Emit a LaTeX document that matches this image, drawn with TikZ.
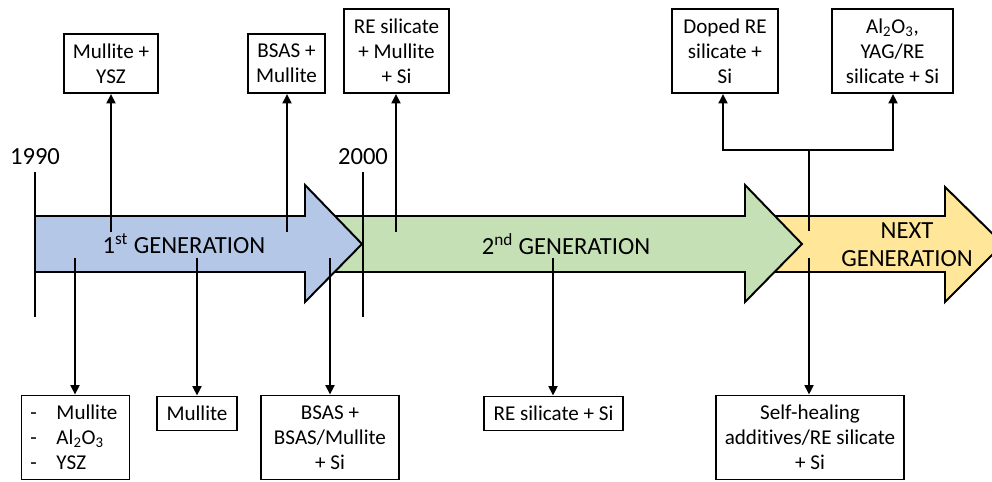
\documentclass[tikz,border=0pt]{standalone}
\usepackage{fontspec}
\setmainfont{Carlito}[Ligatures={NoCommon}]
\usetikzlibrary{positioning}
\usetikzlibrary{arrows.meta}
\definecolor{genblue}{RGB}{180,199,231}
\definecolor{gengreen}{RGB}{197,224,180}
\definecolor{genyellow}{RGB}{255,230,153}

\begin{document}
\begin{tikzpicture}[x=0.025cm,y=-0.025cm,
		box/.style={draw,line width=1.2pt,inner sep=0pt,align=center,font=\fontsize{15}{17.8}\selectfont},
		gen/.style={align=center,font=\fontsize{17.5}{20}\selectfont},
		link/.style={line width=1.6pt,-{Triangle[length=2.4mm,width=2.2mm]}},
		tick/.style={line width=1.6pt},
		genarrow/.style={draw,line width=1.4pt,line join=miter}]
	\useasboundingbox (0,0) rectangle (992,481);

	% the three generation arrows
	\filldraw[genarrow,fill=genyellow] (740,216) -- (945,216) -- (945,187) -- (1003,244) -- (945,302) -- (945,272) -- (740,272) -- cycle;
	\filldraw[genarrow,fill=gengreen] (330,216) -- (745,216) -- (745,185) -- (802,244) -- (745,302) -- (745,272) -- (330,272) -- cycle;
	\filldraw[genarrow,fill=genblue] (35,216) -- (305,216) -- (305,185) -- (362,244) -- (305,302) -- (305,272) -- (35,272) -- cycle;

	\node (g1) at (184,244) [gen] {1\textsuperscript{st} GENERATION};
	\node (g2) at (566,244) [gen] {2\textsuperscript{nd} GENERATION};
	\node (g3) at (907,245) [gen] {NEXT\\GENERATION};

	% year ticks
	\coordinate (y90t) at (35,172);
	\coordinate (y90b) at (35,317);
	\coordinate (y00t) at (363,172);
	\coordinate (y00b) at (363,317);
	\draw[tick] (y90t) -- (y90b);
	\draw[tick] (y00t) -- (y00b);
	\node (y90) [gen,above=0.5mm of y90t] {1990};
	\node (y00) [gen,above=0.5mm of y00t] {2000};

	% boxes above
	\node (myz) at (111,63.5) [box,minimum width=23.5mm,minimum height=14.75mm] {Mullite +\\YSZ};
	\node (bm) at (286.5,63.5) [box,minimum width=19.25mm,minimum height=14.75mm] {BSAS +\\Mullite};
	\node (rem) at (396.5,51) [box,minimum width=26.25mm,minimum height=21mm] {RE silicate\\+ Mullite\\+ Si};
	\node (dre) at (725,51) [box,minimum width=26.5mm,minimum height=21mm] {Doped RE\\silicate +\\Si};
	\node (yag) at (892.5,51) [box,minimum width=30.25mm,minimum height=21mm] {Al\textsubscript{2}O\textsubscript{3},\\YAG/RE\\silicate + Si};

	% boxes below
	\node (lst) at (75.5,437.5) [box,align=left,text width=22.5mm,inner xsep=2.25mm,minimum height=21mm]
		{\makebox[6.5mm][l]{-}Mullite\\\makebox[6.5mm][l]{-}Al\textsubscript{2}O\textsubscript{3}\\\makebox[6.5mm][l]{-}YSZ};
	\node (mul) at (197,413.5) [box,minimum width=20mm,minimum height=8.5mm] {Mullite};
	\node (bsas) at (330,437.5) [box,minimum width=34.5mm,minimum height=21mm] {BSAS +\\BSAS/Mullite\\+ Si};
	\node (res) at (553.5,413.5) [box,minimum width=34.75mm,minimum height=8.5mm] {RE silicate + Si};
	\node (self) at (810,437.5) [box,minimum width=47mm,minimum height=21mm] {Self-healing\\additives/RE silicate\\+ Si};

	% connectors
	\coordinate (u1) at (111,232);
	\coordinate (u2) at (287,232);
	\coordinate (u3) at (396,232);
	\coordinate (u4) at (809,231);
	\coordinate (fork) at (809,150);
	\coordinate (forkl) at (723,150);
	\coordinate (forkr) at (893,150);
	\draw[link] (u1) -- (myz);
	\draw[link] (u2) -- (u2 |- bm.south);
	\draw[link] (u3) -- (u3 |- rem.south);
	\draw[tick] (u4) -- (fork);
	\draw[tick,line cap=rect] (forkl) -- (forkr);
	\draw[link] (forkl) -- (forkl |- dre.south);
	\draw[link] (forkr) -- (forkr |- yag.south);

	\coordinate (d1) at (75,258);
	\coordinate (d2) at (197,258);
	\coordinate (d3) at (330,258);
	\coordinate (d4) at (553,258);
	\coordinate (d5) at (809,258);
	\draw[link] (d1) -- (d1 |- lst.north);
	\draw[link] (d2) -- (mul);
	\draw[link] (d3) -- (bsas);
	\draw[link] (d4) -- (d4 |- res.north);
	\draw[link] (d5) -- (d5 |- self.north);
\end{tikzpicture}
\end{document}
